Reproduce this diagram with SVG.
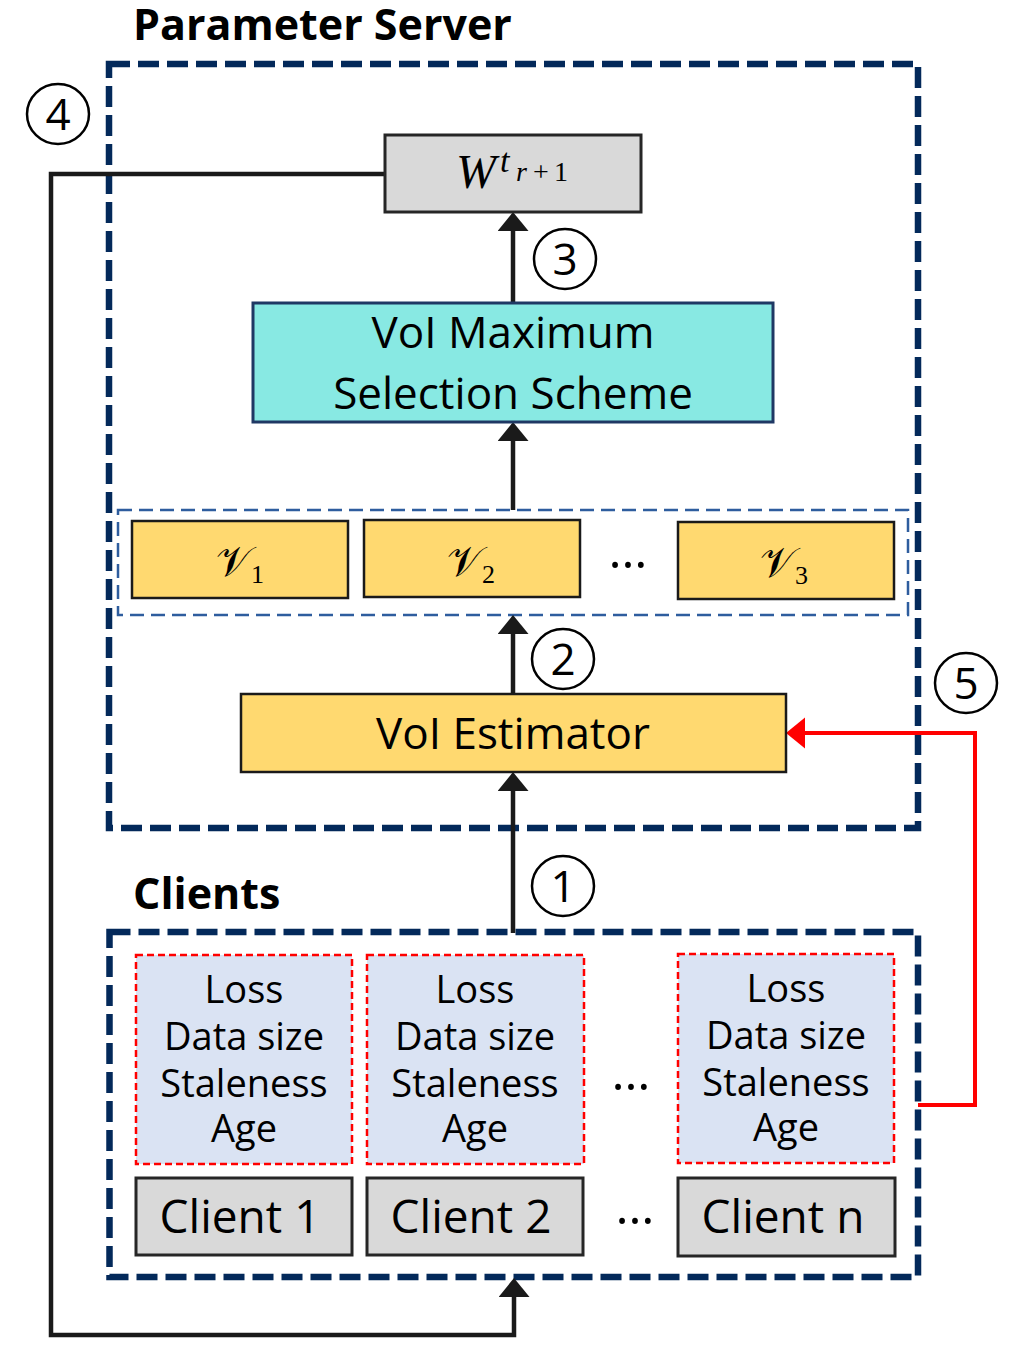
<svg xmlns="http://www.w3.org/2000/svg" width="1016" height="1360" viewBox="0 0 1016 1360">
<defs>
<style>
.t{font-family:"Open Sans","Noto Sans","Liberation Sans",sans-serif;fill:#000;}
.title{font-size:43px;font-weight:bold;}
.big{font-size:44px;text-anchor:middle;}
.cl{font-size:46px;text-anchor:middle;}
.info{font-size:38px;text-anchor:middle;}
.num{font-size:44px;text-anchor:middle;}
.dots{font-size:50px;text-anchor:middle;}
.math{font-family:"Liberation Serif","DejaVu Serif",serif;fill:#000;}
.outer{fill:none;stroke:#03295a;stroke-width:6.5;stroke-dasharray:21 8;}
.inner{fill:none;stroke:#2e5d9e;stroke-width:2.5;stroke-dasharray:14 7;}
.gray{fill:#d9d9d9;stroke:#262626;stroke-width:3;}
.yel{fill:#ffd970;stroke:#1a1a1a;stroke-width:2.5;}
.cyan{fill:#88e9e3;stroke:#1f3864;stroke-width:3;}
.infobox{fill:#dae3f3;stroke:#ff0000;stroke-width:2.5;stroke-dasharray:7 4;}
.circ{fill:#fff;stroke:#000;stroke-width:2.5;}
.conn{fill:none;stroke:#1a1a1a;stroke-width:4.5;}
.red{fill:none;stroke:#ff0000;stroke-width:4;}
</style>
<marker id="ah" markerUnits="userSpaceOnUse" markerWidth="20" markerHeight="32" refX="0" refY="15.5" orient="auto" viewBox="0 0 20 32">
<path d="M0,0 L19,15.5 L0,31 Z" fill="#1a1a1a"/>
</marker>
<marker id="ahr" markerUnits="userSpaceOnUse" markerWidth="20" markerHeight="32" refX="0" refY="15.5" orient="auto" viewBox="0 0 20 32">
<path d="M0,0 L19,15.5 L0,31 Z" fill="#ff0000"/>
</marker>
</defs>
<rect width="1016" height="1360" fill="#fff"/>

<g id="server">
<text class="t title" x="133" y="40">Parameter Server</text>
<rect class="outer" x="109" y="64" width="809" height="764"/>
</g>
<g id="clients">
<text class="t title" x="133" y="909">Clients</text>
<rect class="outer" x="109.5" y="932" width="808.5" height="345"/>
</g>

<g id="vgroup">
<rect class="inner" x="118" y="510" width="790" height="105"/>
</g>

<g id="connectors">
<path class="conn" d="M513,933 V791" marker-end="url(#ah)"/>
<path class="conn" d="M513,694 V634" marker-end="url(#ah)"/>
<path class="conn" d="M513,510 V441" marker-end="url(#ah)"/>
<path class="conn" d="M513,303 V231" marker-end="url(#ah)"/>
<path class="conn" d="M385,174 H51 V1335 H514 V1297" marker-end="url(#ah)"/>
<path class="red" d="M918,1105 H975 V733 H805" marker-end="url(#ahr)"/>
</g>

<g id="w-node">
<rect class="gray" x="385" y="135" width="256" height="77"/>
<text class="math" y="188"><tspan x="456" font-size="48" font-style="italic">W</tspan><tspan x="500" y="172" font-size="34" font-style="italic">t</tspan><tspan x="516" y="181" font-size="28" font-style="italic">r</tspan><tspan x="533" y="181" font-size="28">+</tspan><tspan x="554" y="181" font-size="28">1</tspan></text>
</g>

<g id="voi-max">
<rect class="cyan" x="253" y="303" width="520" height="119"/>
<text class="t big" x="513" y="348">VoI Maximum</text>
<text class="t big" x="513" y="409">Selection Scheme</text>
</g>

<g id="v1">
<rect class="yel" x="132" y="521" width="216" height="77"/>
<text class="math" x="216" y="576" font-size="42">𝒱<tspan font-size="26" dy="7">1</tspan></text>
</g>
<g id="v2">
<rect class="yel" x="364" y="520" width="216" height="77"/>
<text class="math" x="447" y="576" font-size="42">𝒱<tspan font-size="26" dy="7">2</tspan></text>
</g>
<text class="t dots" x="628" y="568">…</text>
<g id="v3">
<rect class="yel" x="678" y="522" width="216" height="77"/>
<text class="math" x="760" y="577" font-size="42">𝒱<tspan font-size="26" dy="7">3</tspan></text>
</g>

<g id="voi-estimator">
<rect class="yel" x="241" y="694" width="545" height="78"/>
<text class="t big" x="513" y="749">VoI Estimator</text>
</g>

<g id="step1"><ellipse class="circ" cx="563" cy="886" rx="31" ry="30"/><text class="t num" x="563" y="902">1</text></g>
<g id="step2"><ellipse class="circ" cx="563" cy="659" rx="31" ry="30"/><text class="t num" x="563" y="675">2</text></g>
<g id="step3"><ellipse class="circ" cx="565" cy="259" rx="31" ry="30"/><text class="t num" x="565" y="275">3</text></g>
<g id="step4"><ellipse class="circ" cx="58" cy="114" rx="31" ry="30"/><text class="t num" x="58" y="130">4</text></g>
<g id="step5"><ellipse class="circ" cx="966" cy="683" rx="31" ry="30"/><text class="t num" x="966" y="699">5</text></g>

<g id="info1">
<rect class="infobox" x="136" y="955" width="216" height="209"/>
<text class="t info" x="244" y="1003">Loss</text>
<text class="t info" x="244" y="1050">Data size</text>
<text class="t info" x="244" y="1097">Staleness</text>
<text class="t info" x="244" y="1142">Age</text>
</g>
<g id="info2">
<rect class="infobox" x="367" y="955" width="217" height="209"/>
<text class="t info" x="475" y="1003">Loss</text>
<text class="t info" x="475" y="1050">Data size</text>
<text class="t info" x="475" y="1097">Staleness</text>
<text class="t info" x="475" y="1142">Age</text>
</g>
<text class="t dots" x="631" y="1090">…</text>
<g id="info3">
<rect class="infobox" x="678" y="954" width="216" height="209"/>
<text class="t info" x="786" y="1002">Loss</text>
<text class="t info" x="786" y="1049">Data size</text>
<text class="t info" x="786" y="1096">Staleness</text>
<text class="t info" x="786" y="1141">Age</text>
</g>

<g id="client1">
<rect class="gray" x="136" y="1178" width="216" height="77"/>
<text class="t cl" x="240" y="1233">Client 1</text>
</g>
<g id="client2">
<rect class="gray" x="367" y="1178" width="216" height="77"/>
<text class="t cl" x="471" y="1233">Client 2</text>
</g>
<text class="t dots" x="635" y="1224">…</text>
<g id="clientn">
<rect class="gray" x="678" y="1178" width="217" height="78"/>
<text class="t cl" x="783" y="1233">Client n</text>
</g>
</svg>
